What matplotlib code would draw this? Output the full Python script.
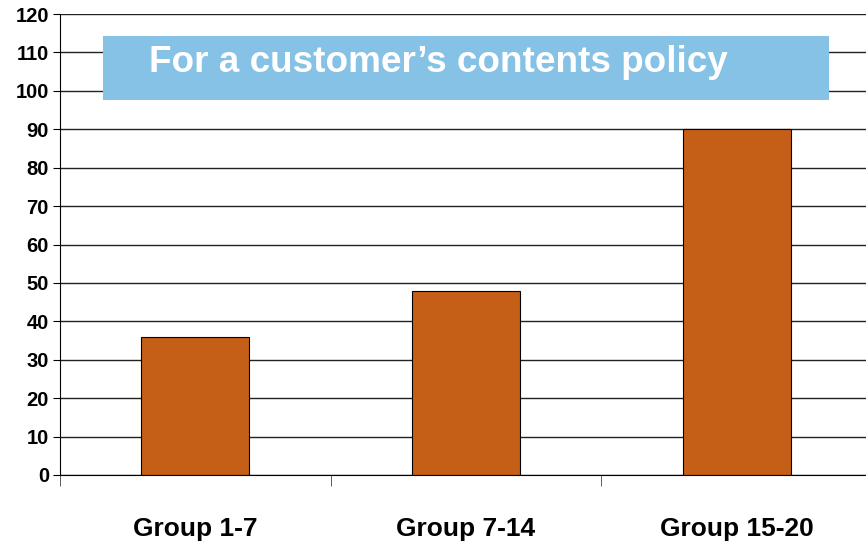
import matplotlib.pyplot as plt
from matplotlib.patches import Rectangle

plt.rcParams['font.family'] = ['Liberation Sans', 'DejaVu Sans']

# chart data
groups = ['Group 1-7', 'Group 7-14', 'Group 15-20']
values = [36, 48, 90]
title = 'For a customer\u2019s contents policy'

fig = plt.figure(figsize=(8.66, 5.41), dpi=100)
ax = fig.add_axes([60 / 866, 66 / 541, 812 / 866, 461 / 541])

x = range(len(groups))
ax.bar(x, values, width=0.4, color='#C55F17', edgecolor='black', linewidth=0.8, zorder=2)

ax.set_xlim(-0.5, 2.5)
ax.set_ylim(0, 120)
ax.set_yticks(range(0, 121, 10))
ax.yaxis.grid(True, color='#222222', linewidth=1.0, zorder=0)
ax.set_axisbelow(True)

for s in ['top', 'right']:
    ax.spines[s].set_visible(False)
ax.spines['left'].set_color('black')
ax.spines['bottom'].set_color('black')

ax.set_xticks(list(x))
ax.set_xticklabels(groups, fontsize=19, fontweight='bold')
ax.set_xticks([-0.5, 0.5, 1.5, 2.5], minor=True)
ax.tick_params(axis='x', which='major', length=0, pad=30)
ax.tick_params(axis='x', which='minor', length=8, direction='out', color='#444444')
ax.tick_params(axis='y', length=5, direction='out', labelsize=14.5, pad=3)
for lbl in ax.get_yticklabels():
    lbl.set_fontweight('bold')

# title banner
fig.patches.append(Rectangle((103 / 866, 1 - 100 / 541), 726 / 866, 64 / 541,
                             transform=fig.transFigure, facecolor='#86C1E6',
                             edgecolor='none', zorder=5))
fig.text(149 / 866, 1 - 62 / 541, title, color='white', fontsize=26.6,
         fontweight='bold', ha='left', va='center', zorder=6)

fig.savefig('out.png', dpi=100)
